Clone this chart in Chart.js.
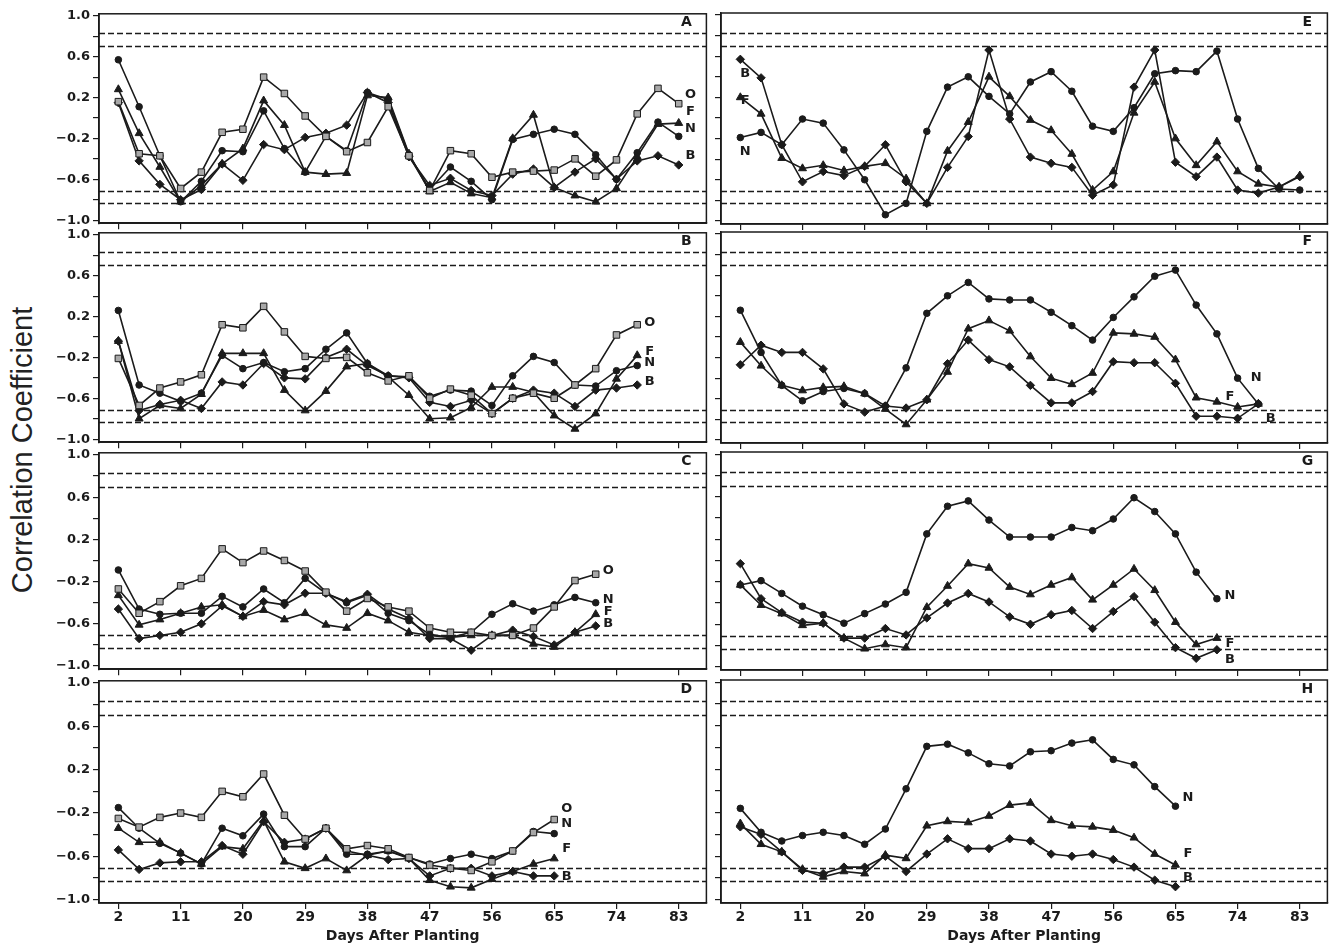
<!DOCTYPE html>
<html>
<head>
<meta charset="utf-8">
<script src="https://cdn.jsdelivr.net/npm/chart.js@4.4.0/dist/chart.umd.min.js"></script>
<style>
  body { margin: 0; background: #fff; width: 1333px; height: 945px; position: relative; overflow: hidden; }
  canvas { position: absolute; }
  #ytitle {
    position: absolute; left: 22px; top: 450px;
    transform: translate(-50%, -50%) rotate(-90deg);
    white-space: nowrap; font: 29px "Liberation Sans", Arial, sans-serif; color: #222;
  }
</style>
</head>
<body>
<div id="ytitle">Correlation Coefficient</div>
<script>
// jours de mesure et graduations
const days = [2, 5, 8, 11, 14, 17, 20, 23, 26, 29, 32, 35, 38, 41, 44, 47, 50, 53, 56, 59, 62, 65, 68, 71, 74, 77, 80, 83];
const xTicks = [2, 11, 20, 29, 38, 47, 56, 65, 74, 83];
const yTicks = [-1.0, -0.8, -0.6, -0.4, -0.2, 0, 0.2, 0.4, 0.6, 0.8, 1.0];
const yLabelled = [-1.0, -0.6, -0.2, 0.2, 0.6, 1.0];
const thresholds = [0.83, 0.70, -0.71, -0.83];

// panneau A
const aO = [0.16,-0.35,-0.37,-0.69,-0.53,-0.14,-0.11,0.40,0.24,0.02,-0.18,-0.33,-0.24,0.11,-0.37,-0.71,-0.32,-0.35,-0.58,-0.53,-0.52,-0.51,-0.40,-0.57,-0.41,0.04,0.29,0.14];
const aF = [0.28,-0.15,-0.48,-0.82,-0.66,-0.45,-0.30,0.17,-0.07,-0.53,-0.55,-0.54,0.22,0.20,-0.35,-0.72,-0.63,-0.74,-0.78,-0.20,0.03,-0.68,-0.76,-0.82,-0.69,-0.38,-0.06,-0.05];
const aN = [0.57,0.11,-0.37,-0.82,-0.62,-0.32,-0.33,0.07,-0.30,-0.53,-0.18,-0.32,0.25,0.18,-0.36,-0.70,-0.48,-0.62,-0.80,-0.21,-0.16,-0.11,-0.16,-0.36,-0.60,-0.34,-0.04,-0.18];
const aB = [0.15,-0.42,-0.65,-0.80,-0.70,-0.45,-0.61,-0.26,-0.31,-0.19,-0.15,-0.07,0.25,0.15,-0.38,-0.66,-0.59,-0.71,-0.76,-0.55,-0.50,-0.68,-0.53,-0.40,-0.60,-0.42,-0.37,-0.46];

// panneau B
const bO = [-0.21,-0.67,-0.50,-0.44,-0.37,0.12,0.09,0.30,0.05,-0.19,-0.21,-0.20,-0.35,-0.43,-0.38,-0.60,-0.51,-0.57,-0.75,-0.60,-0.55,-0.60,-0.47,-0.31,0.02,0.12];
const bF = [-0.04,-0.80,-0.67,-0.70,-0.56,-0.16,-0.16,-0.16,-0.52,-0.72,-0.53,-0.29,-0.26,-0.39,-0.57,-0.80,-0.79,-0.69,-0.49,-0.49,-0.54,-0.77,-0.90,-0.75,-0.41,-0.18];
const bN = [0.26,-0.47,-0.55,-0.63,-0.55,-0.18,-0.31,-0.25,-0.34,-0.31,-0.12,0.04,-0.26,-0.38,-0.39,-0.58,-0.52,-0.53,-0.67,-0.38,-0.19,-0.25,-0.47,-0.48,-0.33,-0.28];
const bB = [-0.04,-0.72,-0.66,-0.62,-0.70,-0.44,-0.47,-0.26,-0.40,-0.41,-0.20,-0.12,-0.28,-0.38,-0.40,-0.64,-0.68,-0.62,-0.75,-0.60,-0.52,-0.55,-0.68,-0.52,-0.50,-0.47];

// panneau C
const cO = [-0.27,-0.50,-0.39,-0.24,-0.17,0.11,-0.02,0.09,0.00,-0.10,-0.30,-0.48,-0.36,-0.44,-0.48,-0.64,-0.68,-0.68,-0.71,-0.71,-0.64,-0.44,-0.19,-0.13];
const cF = [-0.33,-0.61,-0.56,-0.50,-0.44,-0.42,-0.53,-0.47,-0.56,-0.50,-0.61,-0.64,-0.50,-0.57,-0.68,-0.71,-0.73,-0.71,-0.71,-0.71,-0.79,-0.82,-0.68,-0.51];
const cN = [-0.09,-0.46,-0.51,-0.50,-0.50,-0.34,-0.44,-0.27,-0.40,-0.17,-0.31,-0.40,-0.33,-0.50,-0.57,-0.70,-0.73,-0.68,-0.51,-0.41,-0.48,-0.42,-0.35,-0.40];
const cB = [-0.46,-0.74,-0.71,-0.68,-0.60,-0.43,-0.53,-0.39,-0.42,-0.31,-0.31,-0.39,-0.32,-0.46,-0.55,-0.74,-0.74,-0.85,-0.71,-0.66,-0.72,-0.80,-0.68,-0.62];

// panneau D
const dO = [-0.25,-0.33,-0.24,-0.20,-0.24,0.00,-0.05,0.16,-0.22,-0.44,-0.34,-0.53,-0.50,-0.53,-0.61,-0.68,-0.71,-0.73,-0.65,-0.55,-0.38,-0.26];
const dF = [-0.34,-0.47,-0.47,-0.57,-0.67,-0.51,-0.53,-0.27,-0.65,-0.71,-0.62,-0.73,-0.59,-0.55,-0.62,-0.82,-0.88,-0.89,-0.81,-0.74,-0.67,-0.62];
const dN = [-0.15,-0.34,-0.48,-0.57,-0.67,-0.34,-0.41,-0.21,-0.51,-0.51,-0.34,-0.58,-0.58,-0.55,-0.61,-0.67,-0.62,-0.58,-0.62,-0.55,-0.37,-0.39];
const dB = [-0.54,-0.72,-0.66,-0.65,-0.65,-0.50,-0.58,-0.28,-0.47,-0.44,-0.34,-0.55,-0.59,-0.63,-0.62,-0.78,-0.71,-0.71,-0.78,-0.74,-0.78,-0.78];

// panneau E
const eF = [0.20,0.04,-0.39,-0.49,-0.46,-0.51,-0.47,-0.44,-0.59,-0.83,-0.32,-0.04,0.40,0.21,-0.02,-0.12,-0.35,-0.70,-0.52,0.05,0.35,-0.20,-0.46,-0.23,-0.52,-0.64,-0.67,-0.56];
const eN = [-0.19,-0.14,-0.26,-0.01,-0.05,-0.31,-0.60,-0.94,-0.83,-0.13,0.30,0.40,0.21,0.04,0.35,0.45,0.26,-0.08,-0.13,0.10,0.43,0.46,0.45,0.65,-0.01,-0.49,-0.69,-0.70];
const eB = [0.57,0.39,-0.26,-0.62,-0.52,-0.56,-0.47,-0.26,-0.62,-0.83,-0.48,-0.18,0.66,-0.01,-0.38,-0.44,-0.48,-0.75,-0.65,0.30,0.66,-0.43,-0.57,-0.38,-0.70,-0.73,-0.67,-0.57];

// panneau F
const fF = [-0.05,-0.28,-0.47,-0.52,-0.49,-0.48,-0.55,-0.70,-0.85,-0.61,-0.34,0.08,0.16,0.06,-0.19,-0.40,-0.46,-0.35,0.04,0.03,0.00,-0.22,-0.59,-0.63,-0.68,-0.65];
const fN = [0.26,-0.15,-0.47,-0.62,-0.53,-0.50,-0.55,-0.67,-0.30,0.23,0.40,0.53,0.37,0.36,0.36,0.24,0.11,-0.03,0.19,0.39,0.59,0.65,0.31,0.03,-0.40,-0.65];
const fB = [-0.27,-0.08,-0.15,-0.15,-0.31,-0.65,-0.73,-0.67,-0.69,-0.61,-0.26,-0.03,-0.22,-0.29,-0.47,-0.64,-0.64,-0.53,-0.24,-0.25,-0.25,-0.45,-0.77,-0.77,-0.79,-0.65];

// panneau G
const gF = [-0.23,-0.42,-0.50,-0.61,-0.59,-0.73,-0.83,-0.79,-0.82,-0.44,-0.24,-0.03,-0.07,-0.25,-0.32,-0.23,-0.16,-0.37,-0.23,-0.08,-0.28,-0.58,-0.79,-0.73];
const gN = [-0.23,-0.19,-0.31,-0.43,-0.51,-0.59,-0.50,-0.41,-0.30,0.25,0.51,0.56,0.38,0.22,0.22,0.22,0.31,0.28,0.39,0.59,0.46,0.25,-0.11,-0.36];
const gB = [-0.03,-0.36,-0.49,-0.58,-0.59,-0.73,-0.73,-0.64,-0.70,-0.54,-0.40,-0.31,-0.39,-0.53,-0.60,-0.51,-0.47,-0.64,-0.48,-0.34,-0.58,-0.82,-0.92,-0.84];

// panneau H
const hF = [-0.30,-0.49,-0.56,-0.72,-0.79,-0.74,-0.76,-0.59,-0.62,-0.32,-0.28,-0.29,-0.23,-0.13,-0.11,-0.27,-0.32,-0.33,-0.36,-0.43,-0.58,-0.68];
const hN = [-0.16,-0.38,-0.46,-0.41,-0.38,-0.41,-0.49,-0.35,0.02,0.41,0.43,0.35,0.25,0.23,0.36,0.37,0.44,0.47,0.29,0.24,0.04,-0.14];
const hB = [-0.33,-0.40,-0.56,-0.73,-0.76,-0.70,-0.70,-0.60,-0.74,-0.58,-0.44,-0.53,-0.53,-0.44,-0.46,-0.58,-0.60,-0.58,-0.63,-0.70,-0.82,-0.88];

const ink = '#1b1b1b';
const tickFont = { family: 'DejaVu Sans', size: 14, weight: 'bold' };

const styles = {
  O: { shape: 'rect', r: 4.6, fill: '#a8a8a8' },
  F: { shape: 'triangle', r: 4.6, fill: ink },
  N: { shape: 'circle', r: 3.3, fill: ink },
  B: { shape: 'rectRot', r: 4.2, fill: ink }
};

const rows = [
  { top: 13, bottom: 224 },
  { top: 232, bottom: 443 },
  { top: 452, bottom: 670 },
  { top: 680, bottom: 903 }
];
const cols = [
  { left: 0, width: 712, axisW: 99 },
  { left: 712, width: 621, axisW: 9 }
];

const panels = [
  { letter: 'A', col: 0, row: 0, series: { O: aO, F: aF, N: aN, B: aB },
    labels: [['O', 84.7, 0.23], ['F', 84.7, 0.06], ['N', 84.7, -0.10], ['B', 84.7, -0.37]] },
  { letter: 'B', col: 0, row: 1, series: { O: bO, F: bF, N: bN, B: bB },
    labels: [['O', 78.8, 0.14], ['F', 78.8, -0.14], ['N', 78.8, -0.25], ['B', 78.8, -0.44]] },
  { letter: 'C', col: 0, row: 2, series: { O: cO, F: cF, N: cN, B: cB },
    labels: [['O', 72.8, -0.10], ['N', 72.8, -0.37], ['F', 72.8, -0.48], ['B', 72.8, -0.60]] },
  { letter: 'D', col: 0, row: 3, series: { O: dO, F: dF, N: dN, B: dB },
    labels: [['O', 66.8, -0.16], ['N', 66.8, -0.30], ['F', 66.8, -0.53], ['B', 66.8, -0.79]] },
  { letter: 'E', col: 1, row: 0, series: { F: eF, N: eN, B: eB },
    labels: [['B', 2.7, 0.43], ['F', 2.7, 0.17], ['N', 2.7, -0.33]] },
  { letter: 'F', col: 1, row: 1, series: { F: fF, N: fN, B: fB },
    labels: [['N', 76.7, -0.39], ['F', 72.9, -0.58], ['B', 78.8, -0.79]] },
  { letter: 'G', col: 1, row: 2, series: { F: gF, N: gN, B: gB },
    labels: [['N', 72.9, -0.33], ['F', 72.9, -0.78], ['B', 72.9, -0.93]] },
  { letter: 'H', col: 1, row: 3, series: { F: hF, N: hN, B: hB },
    labels: [['N', 66.8, -0.06], ['F', 66.8, -0.58], ['B', 66.8, -0.80]] }
];

function fmt(v) {
  const s = Math.abs(v).toFixed(1);
  return v < 0 ? '\u2212' + s : s;
}

// lignes de seuil, cadre, lettre du panneau et noms des séries
const panelDecor = {
  id: 'panelDecor',
  beforeDatasetsDraw(chart) {
    const { ctx, chartArea: a, scales: { y } } = chart;
    ctx.save();
    ctx.setLineDash([6, 3]);
    ctx.lineWidth = 1.7;
    ctx.strokeStyle = ink;
    thresholds.forEach(t => {
      const py = Math.round(y.getPixelForValue(t)) + 0.5;
      ctx.beginPath();
      ctx.moveTo(a.left, py);
      ctx.lineTo(a.right, py);
      ctx.stroke();
    });
    ctx.restore();
  },
  afterDraw(chart, args, opts) {
    const { ctx, chartArea: a, scales: { x, y } } = chart;
    ctx.save();
    ctx.strokeStyle = ink;
    ctx.lineWidth = 1.5;
    ctx.strokeRect(a.left, a.top, a.right - a.left, a.bottom - a.top);
    ctx.fillStyle = ink;
    ctx.font = 'bold 14px "DejaVu Sans"';
    ctx.textAlign = 'center';
    ctx.textBaseline = 'middle';
    ctx.fillText(opts.letter, a.right - 20, a.top + 9);
    ctx.font = 'bold 13px "DejaVu Sans"';
    opts.labels.forEach(([t, d, r]) => {
      ctx.fillText(t, x.getPixelForValue(d), y.getPixelForValue(r));
    });
    ctx.restore();
  }
};

panels.forEach(p => {
  const col = cols[p.col];
  const row = rows[p.row];
  const last = p.row === 3;
  // marge haute assez grande pour l'étiquette "1.0", sinon Chart.js décale la zone
  const padTop = 10;
  const xAxisH = last ? 42 : 10;
  const top = row.top - padTop;
  const height = last ? 945 - top : row.bottom - row.top + padTop + xAxisH;

  const cv = document.createElement('canvas');
  cv.width = col.width;
  cv.height = height;
  cv.style.left = col.left + 'px';
  cv.style.top = top + 'px';
  document.body.appendChild(cv);

  const datasets = Object.keys(p.series).map(k => ({
    label: k,
    data: p.series[k].map((v, i) => ({ x: days[i], y: v })),
    borderColor: ink,
    borderWidth: 1.6,
    pointStyle: styles[k].shape,
    pointRadius: styles[k].r,
    pointBackgroundColor: styles[k].fill,
    pointBorderColor: ink,
    pointBorderWidth: 1,
    tension: 0,
    fill: false
  }));

  new Chart(cv, {
    type: 'line',
    data: { datasets },
    options: {
      responsive: false,
      animation: false,
      devicePixelRatio: 1,
      layout: { padding: { top: padTop, right: 5, left: 0, bottom: 0 } },
      plugins: {
        legend: { display: false },
        tooltip: { enabled: false },
        panelDecor: { letter: p.letter, labels: p.labels }
      },
      scales: {
        x: {
          type: 'linear',
          min: -0.8,
          max: 87,
          afterBuildTicks: a => { a.ticks = xTicks.map(v => ({ value: v })); },
          afterFit: a => { a.height = xAxisH; },
          grid: { display: true, drawOnChartArea: false, drawTicks: true, tickLength: 6, color: ink, lineWidth: 1.2 },
          border: { display: true, color: ink, width: 1.5 },
          ticks: { display: last, font: tickFont, color: ink, padding: 0, maxRotation: 0, autoSkip: false },
          title: { display: last, text: 'Days After Planting', font: tickFont, color: ink, padding: { top: 0, bottom: 0 } }
        },
        y: {
          min: -1.03,
          max: 1.02,
          afterBuildTicks: a => { a.ticks = yTicks.map(v => ({ value: v })); },
          afterFit: a => { a.width = col.axisW; },
          grid: { display: true, drawOnChartArea: false, drawTicks: true, tickLength: 6, color: ink, lineWidth: 1.2 },
          border: { display: true, color: ink, width: 1.5 },
          ticks: {
            display: p.col === 0,
            font: { family: 'DejaVu Sans', size: 13, weight: 'bold' },
            color: ink,
            padding: 3,
            callback: v => yLabelled.some(l => Math.abs(l - v) < 1e-6) ? fmt(v) : ''
          }
        }
      }
    },
    plugins: [panelDecor]
  });
});
</script>
</body>
</html>
